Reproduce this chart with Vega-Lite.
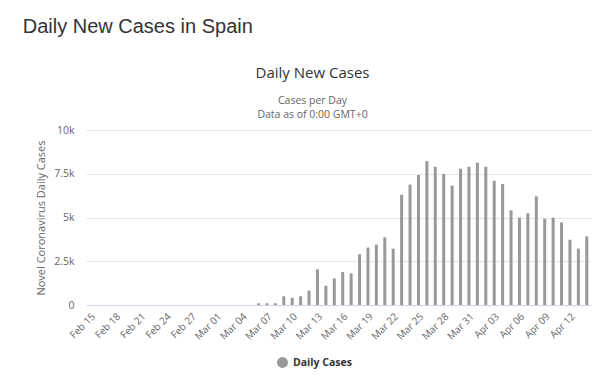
{
  "$schema": "https://vega.github.io/schema/vega-lite/v6.json",
  "padding": {"left": 22, "top": 16, "right": 5, "bottom": 5},
  "background": "white",
  "title": {"text": "Daily New Cases in Spain", "anchor": "start", "frame": "bounds", "dx": -13, "fontSize": 20, "font": "Liberation Sans", "fontWeight": "normal", "color": "#333333", "offset": 29},
  "config": {
    "view": {"stroke": null},
    "font": "Open Sans"
  },
  "vconcat": [
    {
      "width": 505,
      "height": 175,
      "title": {
        "text": "Daily New Cases",
        "subtitle": ["Cases per Day", "Data as of 0:00 GMT+0"],
        "anchor": "middle",
        "frame": "group",
        "dx": -26,
        "font": "Open Sans",
        "fontSize": 15,
        "fontWeight": "normal",
        "color": "#333333",
        "subtitleFont": "Open Sans",
        "subtitleFontSize": 10.5,
        "subtitleColor": "#666666",
        "subtitlePadding": 15,
        "subtitleLineHeight": 14,
        "offset": 5
      },
      "data": {
        "values": [
          {"date": "Feb 15", "cases": 0, "series": "Daily Cases"},
          {"date": "Feb 16", "cases": 0, "series": "Daily Cases"},
          {"date": "Feb 17", "cases": 0, "series": "Daily Cases"},
          {"date": "Feb 18", "cases": 0, "series": "Daily Cases"},
          {"date": "Feb 19", "cases": 0, "series": "Daily Cases"},
          {"date": "Feb 20", "cases": 0, "series": "Daily Cases"},
          {"date": "Feb 21", "cases": 0, "series": "Daily Cases"},
          {"date": "Feb 22", "cases": 0, "series": "Daily Cases"},
          {"date": "Feb 23", "cases": 0, "series": "Daily Cases"},
          {"date": "Feb 24", "cases": 0, "series": "Daily Cases"},
          {"date": "Feb 25", "cases": 0, "series": "Daily Cases"},
          {"date": "Feb 26", "cases": 0, "series": "Daily Cases"},
          {"date": "Feb 27", "cases": 0, "series": "Daily Cases"},
          {"date": "Feb 28", "cases": 0, "series": "Daily Cases"},
          {"date": "Feb 29", "cases": 0, "series": "Daily Cases"},
          {"date": "Mar 01", "cases": 0, "series": "Daily Cases"},
          {"date": "Mar 02", "cases": 0, "series": "Daily Cases"},
          {"date": "Mar 03", "cases": 0, "series": "Daily Cases"},
          {"date": "Mar 04", "cases": 0, "series": "Daily Cases"},
          {"date": "Mar 05", "cases": 0, "series": "Daily Cases"},
          {"date": "Mar 06", "cases": 100, "series": "Daily Cases"},
          {"date": "Mar 07", "cases": 100, "series": "Daily Cases"},
          {"date": "Mar 08", "cases": 100, "series": "Daily Cases"},
          {"date": "Mar 09", "cases": 500, "series": "Daily Cases"},
          {"date": "Mar 10", "cases": 410, "series": "Daily Cases"},
          {"date": "Mar 11", "cases": 500, "series": "Daily Cases"},
          {"date": "Mar 12", "cases": 820, "series": "Daily Cases"},
          {"date": "Mar 13", "cases": 2040, "series": "Daily Cases"},
          {"date": "Mar 14", "cases": 1100, "series": "Daily Cases"},
          {"date": "Mar 15", "cases": 1520, "series": "Daily Cases"},
          {"date": "Mar 16", "cases": 1890, "series": "Daily Cases"},
          {"date": "Mar 17", "cases": 1810, "series": "Daily Cases"},
          {"date": "Mar 18", "cases": 2900, "series": "Daily Cases"},
          {"date": "Mar 19", "cases": 3280, "series": "Daily Cases"},
          {"date": "Mar 20", "cases": 3450, "series": "Daily Cases"},
          {"date": "Mar 21", "cases": 3870, "series": "Daily Cases"},
          {"date": "Mar 22", "cases": 3220, "series": "Daily Cases"},
          {"date": "Mar 23", "cases": 6300, "series": "Daily Cases"},
          {"date": "Mar 24", "cases": 6880, "series": "Daily Cases"},
          {"date": "Mar 25", "cases": 7430, "series": "Daily Cases"},
          {"date": "Mar 26", "cases": 8230, "series": "Daily Cases"},
          {"date": "Mar 27", "cases": 7900, "series": "Daily Cases"},
          {"date": "Mar 28", "cases": 7490, "series": "Daily Cases"},
          {"date": "Mar 29", "cases": 6820, "series": "Daily Cases"},
          {"date": "Mar 30", "cases": 7790, "series": "Daily Cases"},
          {"date": "Mar 31", "cases": 7900, "series": "Daily Cases"},
          {"date": "Apr 01", "cases": 8130, "series": "Daily Cases"},
          {"date": "Apr 02", "cases": 7900, "series": "Daily Cases"},
          {"date": "Apr 03", "cases": 7100, "series": "Daily Cases"},
          {"date": "Apr 04", "cases": 6910, "series": "Daily Cases"},
          {"date": "Apr 05", "cases": 5410, "series": "Daily Cases"},
          {"date": "Apr 06", "cases": 4990, "series": "Daily Cases"},
          {"date": "Apr 07", "cases": 5240, "series": "Daily Cases"},
          {"date": "Apr 08", "cases": 6210, "series": "Daily Cases"},
          {"date": "Apr 09", "cases": 4930, "series": "Daily Cases"},
          {"date": "Apr 10", "cases": 4990, "series": "Daily Cases"},
          {"date": "Apr 11", "cases": 4720, "series": "Daily Cases"},
          {"date": "Apr 12", "cases": 3730, "series": "Daily Cases"},
          {"date": "Apr 13", "cases": 3220, "series": "Daily Cases"},
          {"date": "Apr 14", "cases": 3920, "series": "Daily Cases"}
        ]
      },
      "mark": {"type": "bar", "width": 3},
      "encoding": {
        "x": {
          "field": "date",
          "type": "nominal",
          "sort": null,
          "scale": {"type": "band", "paddingInner": 0, "paddingOuter": 0},
          "axis": {
            "title": null,
            "values": ["Feb 15", "Feb 18", "Feb 21", "Feb 24", "Feb 27", "Mar 01", "Mar 04", "Mar 07", "Mar 10", "Mar 13", "Mar 16", "Mar 19", "Mar 22", "Mar 25", "Mar 28", "Mar 31", "Apr 03", "Apr 06", "Apr 09", "Apr 12"],
            "labelAngle": -45,
            "labelAlign": "right",
            "labelBaseline": "top",
            "labelFontSize": 10,
            "labelColor": "#666666",
            "labelPadding": 6,
            "labelFont": "Open Sans",
            "ticks": false,
            "domainColor": "#ccd6eb",
            "domainWidth": 1,
            "grid": false
          }
        },
        "y": {
          "field": "cases",
          "type": "quantitative",
          "scale": {"domain": [0, 10000], "nice": false},
          "axis": {
            "title": "Novel Coronavirus Daily Cases",
            "titleFont": "Open Sans",
            "titleFontSize": 11,
            "titleFontWeight": "normal",
            "titleColor": "#666666",
            "titlePadding": 7,
            "values": [0, 2500, 5000, 7500, 10000],
            "format": ".2~s",
            "labelFontSize": 10.5,
            "labelColor": "#666666",
            "labelFont": "Open Sans",
            "labelPadding": 12,
            "ticks": false,
            "domain": false,
            "gridColor": "#e6e6e6",
            "gridWidth": 1
          }
        },
        "color": {
          "field": "series",
          "type": "nominal",
          "scale": {"range": ["#999999"]},
          "legend": {
            "title": null,
            "orient": "none",
            "legendX": 190,
            "legendY": 226,
            "symbolType": "circle",
            "symbolSize": 120,
            "symbolOpacity": 1,
            "labelFontSize": 10.5,
            "labelFontWeight": "bold",
            "labelColor": "#333333",
            "labelFont": "Open Sans"
          }
        }
      }
    }
  ]
}
